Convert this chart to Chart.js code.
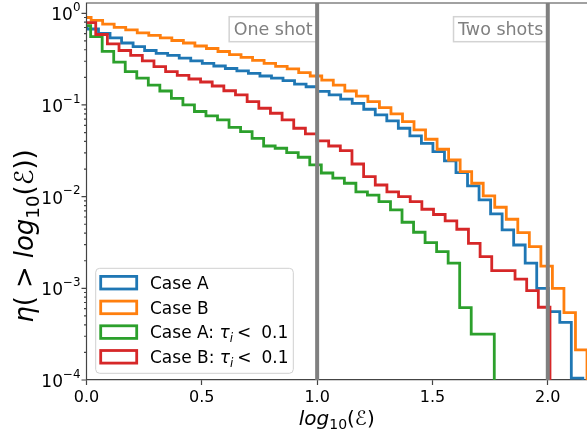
<!DOCTYPE html>
<html>
<head>
<meta charset="utf-8">
<script src="https://cdn.jsdelivr.net/npm/chart.js@4.4.1/dist/chart.umd.min.js"></script>
<style>
  html, body { margin: 0; padding: 0; background: #fff; }
  canvas { display: block; }
</style>
</head>
<body>
<canvas id="chart" width="587" height="434"></canvas>
<script>
// fraction of events above each bin (cumulative histograms)
const caseA = [0.691, 0.674, 0.602, 0.538, 0.474, 0.434, 0.393, 0.366, 0.347, 0.325,
               0.302, 0.284, 0.266, 0.250, 0.235, 0.221, 0.207, 0.196, 0.184, 0.169,
               0.158, 0.141, 0.129, 0.116, 0.104, 0.0898, 0.0778, 0.0669, 0.0557, 0.0459,
               0.0382, 0.0310, 0.0245, 0.0183, 0.0131, 0.0092, 0.00648, 0.00433, 0.00297, 0.00188,
               0.00100, 0.000557, 0.000425, 0.000105];
const caseB = [0.900, 0.835, 0.760, 0.703, 0.658, 0.610, 0.573, 0.538, 0.505, 0.474,
               0.440, 0.413, 0.383, 0.355, 0.330, 0.306, 0.284, 0.263, 0.247, 0.225,
               0.207, 0.187, 0.165, 0.142, 0.125, 0.109, 0.0935, 0.0798, 0.0658, 0.0534,
               0.0423, 0.0329, 0.0251, 0.0187, 0.0140, 0.0102, 0.00766, 0.00567, 0.00405, 0.00285,
               0.00175, 0.00100, 0.000543, 0.000213];
const caseATau = [0.732, 0.556, 0.385, 0.294, 0.231, 0.196, 0.165, 0.142, 0.118, 0.100,
                  0.0849, 0.0759, 0.0686, 0.0571, 0.0511, 0.0433, 0.0357, 0.0337, 0.0302, 0.0269,
                  0.0222, 0.0181, 0.0159, 0.0140, 0.0113, 0.0104, 0.00882, 0.00716, 0.00526, 0.00409,
                  0.00315, 0.00251, 0.00188, 0.000616, 0.000316, 0.000316];
const caseBTau = [0.790, 0.587, 0.463, 0.393, 0.347, 0.302, 0.262, 0.231, 0.210, 0.192,
                  0.178, 0.161, 0.143, 0.129, 0.109, 0.0921, 0.0812, 0.0686, 0.0557, 0.0483,
                  0.0405, 0.0357, 0.0317, 0.0227, 0.0165, 0.0134, 0.0113, 0.0100, 0.00882, 0.00729,
                  0.00639, 0.00543, 0.00441, 0.00310, 0.00222, 0.00156, 0.00156, 0.00126, 0.000944, 0.000622];

// left edge of the first bin and the bin width of each histogram
const binsA = { start: -0.048, width: 0.05 };
const binsB = { start: -0.03, width: 0.05 };
const binsATau = { start: -0.032, width: 0.05 };
const binsBTau = { start: -0.0105, width: 0.0505 };

const colors = ['#1f77b4', '#ff7f0e', '#2ca02c', '#d62728'];

const xTicks = [0, 0.5, 1.0, 1.5, 2.0];
const yExponents = [-4, -3, -2, -1, 0];
const shotLines = [1.0, 2.0];
const shotLabels = ['One shot', 'Two shots'];

const FONT = '"DejaVu Sans", sans-serif';

const tauLabel = name => [
    { t: name + ': ' }, { t: 'τ', it: true }, { t: 'i', it: true, sub: true },
    { gap: 4 }, { t: '<' }, { gap: 4.5 }, { t: ' 0.1' }
];
const legendLabels = [[{ t: 'Case A' }], [{ t: 'Case B' }], tauLabel('Case A'), tauLabel('Case B')];

const xTitle = [{ t: 'log', it: true }, { t: '10', sub: true }, { t: '(' }, { t: 'ℰ' }, { t: ')' }];
const yTitle = [{ t: 'η', it: true }, { t: '(' }, { gap: 8 }, { t: '>' }, { gap: 8 },
                { t: 'log', it: true }, { t: '10', sub: true }, { t: '(' }, { t: 'ℰ' }, { t: ')' }, { t: ')' }];

function stepPoints(values, bins) {
    const pts = values.map((v, i) => ({ x: bins.start + bins.width * i, y: v }));
    // drop back to zero after the last bin
    pts.push({ x: bins.start + bins.width * values.length, y: 1e-9 });
    return pts;
}

function fontOf(size, italic) {
    return (italic ? 'italic ' : '') + size + 'px ' + FONT;
}

function richWidth(ctx, parts, size) {
    let w = 0;
    for (const p of parts) {
        if (p.gap) { w += p.gap; continue; }
        ctx.font = fontOf((p.sub || p.sup) ? size * 0.7 : size, p.it);
        w += ctx.measureText(p.t).width;
    }
    return w;
}

function drawRich(ctx, parts, x, y, size, align) {
    const total = richWidth(ctx, parts, size);
    let cx = align === 'right' ? x - total : align === 'center' ? x - total / 2 : x;
    ctx.textAlign = 'left';
    ctx.textBaseline = 'alphabetic';
    for (const p of parts) {
        if (p.gap) { cx += p.gap; continue; }
        const s = (p.sub || p.sup) ? size * 0.7 : size;
        ctx.font = fontOf(s, p.it);
        const dy = p.sub ? size * 0.22 : p.sup ? -size * 0.55 : 0;
        ctx.fillText(p.t, cx, y + dy);
        cx += ctx.measureText(p.t).width;
    }
}

const decorations = {
    id: 'decorations',
    afterDatasetsDraw(chart) {
        const { ctx, chartArea: a, scales: { x, y } } = chart;
        ctx.save();

        // spines (top and left)
        ctx.strokeStyle = '#444';
        ctx.lineWidth = 1.2;
        ctx.beginPath();
        ctx.moveTo(a.left, a.bottom);
        ctx.lineTo(a.left, a.top);
        ctx.lineTo(a.right, a.top);
        ctx.stroke();

        // log ticks on the y axis
        ctx.beginPath();
        yExponents.forEach(e => {
            const py = y.getPixelForValue(Math.pow(10, e));
            ctx.moveTo(a.left, py);
            ctx.lineTo(a.left - 5, py);
            if (e < 0) {
                for (let m = 2; m < 10; m++) {
                    const pm = y.getPixelForValue(m * Math.pow(10, e));
                    ctx.moveTo(a.left, pm);
                    ctx.lineTo(a.left - 2.5, pm);
                }
            }
        });
        ctx.stroke();

        ctx.fillStyle = '#000';
        yExponents.forEach(e => {
            const py = y.getPixelForValue(Math.pow(10, e));
            const exp = e === 0 ? '0' : '\u2212' + (-e);
            drawRich(ctx, [{ t: '10' }, { t: exp, sup: true }], a.left - 6, py + 7, 17, 'right');
        });

        // shot markers with their labels
        shotLines.forEach((v, i) => {
            const px = x.getPixelForValue(v);
            ctx.font = fontOf(17.5, false);
            const tw = ctx.measureText(shotLabels[i]).width;
            const boxL = px - tw - 9;
            ctx.fillStyle = '#fff';
            ctx.strokeStyle = '#d3d3d3';
            ctx.lineWidth = 1.5;
            ctx.fillRect(boxL, a.top + 13.7, px - boxL, 25);
            ctx.strokeRect(boxL, a.top + 13.7, px - boxL, 25);
            ctx.fillStyle = '#808080';
            ctx.textAlign = 'right';
            ctx.textBaseline = 'alphabetic';
            ctx.fillText(shotLabels[i], px - 4.5, a.top + 32.4);

            ctx.strokeStyle = '#808080';
            ctx.lineWidth = 4;
            ctx.beginPath();
            ctx.moveTo(px, a.top);
            ctx.lineTo(px, a.bottom);
            ctx.stroke();
        });

        // legend
        const lx = a.left + 9.2, ly = 268.3, lw = 197.6, lh = 105;
        ctx.fillStyle = 'rgba(255,255,255,0.85)';
        ctx.strokeStyle = '#d0d0d0';
        ctx.lineWidth = 1;
        ctx.beginPath();
        ctx.roundRect(lx, ly, lw, lh, 4);
        ctx.fill();
        ctx.stroke();
        legendLabels.forEach((parts, i) => {
            const ry = ly + 14.4 + i * 24.7;
            ctx.strokeStyle = colors[i];
            ctx.lineWidth = 2.8;
            ctx.strokeRect(lx + 5, ry - 6.3, 36, 12.6);
            ctx.fillStyle = '#000';
            drawRich(ctx, parts, lx + 54.3, ry + 6.2, 17, 'left');
        });

        // axis titles
        ctx.fillStyle = '#000';
        drawRich(ctx, xTitle, (a.left + a.right) / 2, 424.5, 20, 'center');
        ctx.translate(25, 236);
        ctx.rotate(-Math.PI / 2);
        drawRich(ctx, yTitle, 0, 0.3 * 26, 26, 'center');

        ctx.restore();
    }
};

const ctx = document.getElementById('chart').getContext('2d');
new Chart(ctx, {
    type: 'line',
    data: {
        datasets: [
            { label: 'Case A', data: stepPoints(caseA, binsA), borderColor: colors[0], order: 3 },
            { label: 'Case B', data: stepPoints(caseB, binsB), borderColor: colors[1], order: 2 },
            { label: 'Case A: tau_i < 0.1', data: stepPoints(caseATau, binsATau), borderColor: colors[2], order: 1 },
            { label: 'Case B: tau_i < 0.1', data: stepPoints(caseBTau, binsBTau), borderColor: colors[3], order: 0 }
        ]
    },
    options: {
        responsive: false,
        animation: false,
        devicePixelRatio: 1,
        layout: { padding: { top: 3, left: 0, right: 0, bottom: 0 } },
        elements: {
            point: { radius: 0 },
            line: { borderWidth: 2.8, tension: 0, stepped: true, fill: false }
        },
        plugins: {
            legend: { display: false },
            tooltip: { enabled: false }
        },
        scales: {
            x: {
                type: 'linear',
                min: 0,
                max: 2.17,
                afterBuildTicks: s => { s.ticks = xTicks.map(v => ({ value: v })); },
                afterFit: s => { s.height = 54; },
                ticks: {
                    callback: v => v.toFixed(1),
                    font: { family: FONT, size: 16 },
                    color: '#000',
                    padding: 3,
                    maxRotation: 0,
                    autoSkip: false
                },
                grid: { drawOnChartArea: false, drawTicks: true, tickLength: 5, tickColor: '#444', tickWidth: 1.2 },
                border: { display: true, color: '#444', width: 1.2 }
            },
            y: {
                type: 'logarithmic',
                min: 1e-4,
                max: 1.295,
                afterFit: s => { s.width = 86.5; },
                ticks: { display: false },
                grid: { display: false },
                border: { display: false }
            }
        }
    },
    plugins: [decorations]
});
</script>
</body>
</html>
